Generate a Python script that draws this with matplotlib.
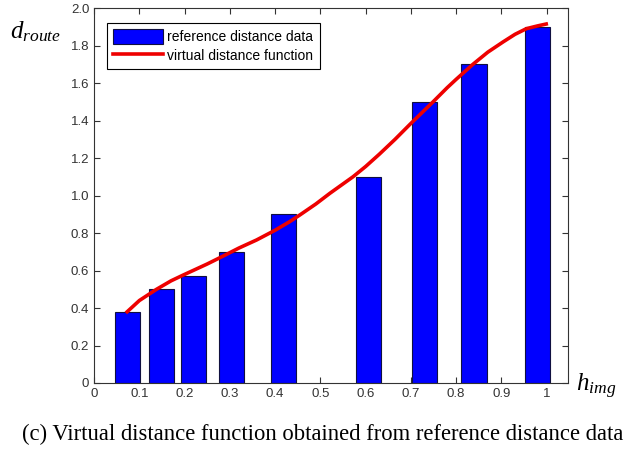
import matplotlib
matplotlib.use("Agg")
import matplotlib.pyplot as plt
from matplotlib.ticker import FixedLocator, FixedFormatter

# reference distance data (bars)
bar_h = [0.0735, 0.1485, 0.219, 0.303, 0.419, 0.607, 0.7295, 0.8395, 0.9795]
bar_d = [0.38, 0.50, 0.57, 0.70, 0.90, 1.10, 1.50, 1.70, 1.90]

# virtual distance function (curve)
curve_h = [0.073, 0.10, 0.138, 0.17, 0.197, 0.25, 0.285, 0.32, 0.359, 0.40, 0.433, 0.455,
           0.49, 0.521, 0.572, 0.60, 0.63, 0.665, 0.698, 0.749, 0.78, 0.80, 0.837, 0.87,
           0.904, 0.93, 0.955, 0.98, 0.999]
curve_d = [0.38, 0.44, 0.50, 0.545, 0.576, 0.635, 0.677, 0.72, 0.763, 0.815, 0.862, 0.897,
           0.955, 1.012, 1.10, 1.155, 1.22, 1.30, 1.38, 1.50, 1.575, 1.62, 1.70, 1.765,
           1.82, 1.86, 1.89, 1.905, 1.915]

x_ticks = [0, 0.1, 0.2, 0.3, 0.4, 0.5, 0.6, 0.7, 0.8, 0.9, 1.0]
x_labels = ["0", "0.1", "0.2", "0.3", "0.4", "0.5", "0.6", "0.7", "0.8", "0.9", "1"]
y_ticks = [0, 0.2, 0.4, 0.6, 0.8, 1.0, 1.2, 1.4, 1.6, 1.8, 2.0]
y_labels = ["0", "0.2", "0.4", "0.6", "0.8", "1.0", "1.2", "1.4", "1.6", "1.8", "2.0"]

plt.rcParams.update({
    "font.family": ["Liberation Sans", "DejaVu Sans"],
    "mathtext.fontset": "custom",
    "mathtext.rm": "Liberation Serif",
    "mathtext.it": "Liberation Serif:italic",
})

fig = plt.figure(figsize=(6.36, 4.49), dpi=100)
ax = fig.add_axes([0.148, 0.147, 0.745, 0.835])

bars = ax.bar(bar_h, bar_d, width=0.056, color="#0000ff", edgecolor="#101040",
              linewidth=0.8, label="reference distance data", zorder=2)
line, = ax.plot(curve_h, curve_d, color="#ee0000", linewidth=2.6,
                label="virtual distance function", zorder=3)

ax.set_xlim(0, 1.047)
ax.set_ylim(0, 2.0)
ax.xaxis.set_major_locator(FixedLocator(x_ticks))
ax.xaxis.set_major_formatter(FixedFormatter(x_labels))
ax.yaxis.set_major_locator(FixedLocator(y_ticks))
ax.yaxis.set_major_formatter(FixedFormatter(y_labels))
ax.tick_params(direction="in", top=True, right=True, length=4, width=0.8,
               labelsize=9.5, colors="#333333", labelcolor="#333333")
for s in ax.spines.values():
    s.set_color("#333333")
    s.set_linewidth(0.8)

leg = ax.legend([bars, line], ["reference distance data", "virtual distance function"],
                loc="upper left", bbox_to_anchor=(0.027, 0.96), fontsize=10,
                fancybox=False, framealpha=1, edgecolor="black",
                handlelength=3.6, handleheight=1.2, handletextpad=0.3, borderpad=0.45,
                labelspacing=0.3, borderaxespad=0)
leg.get_frame().set_linewidth(0.8)

fig.text(0.015, 0.93, r"$d_{route}$", fontsize=18, ha="left", va="center")
fig.text(0.905, 0.14, r"$h_{img}$", fontsize=18, ha="left", va="center")

fig.text(0.508, 0.033, "(c) Virtual distance function obtained from reference distance data",
         fontsize=16.3, family="Liberation Serif", ha="center", va="center")

fig.savefig("out.png", dpi=100)
